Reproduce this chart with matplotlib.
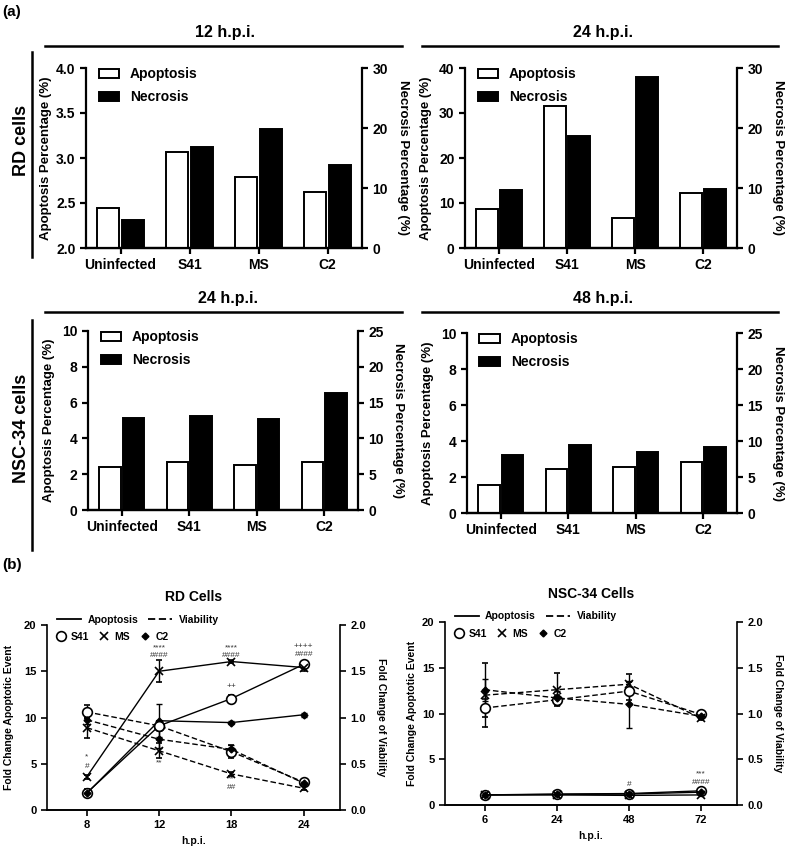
import numpy as np
import matplotlib
matplotlib.use('Agg')
import matplotlib.pyplot as plt
from matplotlib.patches import Patch
from matplotlib.lines import Line2D
from matplotlib.ticker import FormatStrFormatter

plt.rcParams['font.family'] = ['Liberation Sans', 'DejaVu Sans']
plt.rcParams['font.weight'] = 'bold'
plt.rcParams['axes.labelweight'] = 'bold'

# ---- (a) bar data ----
groups = ['Uninfected', 'S41', 'MS', 'C2']
rd12_apop = [2.44, 3.07, 2.79, 2.62]
rd12_necr = [4.7, 16.8, 19.8, 13.9]
rd24_apop = [8.7, 31.6, 6.6, 12.3]
rd24_necr = [9.6, 18.7, 28.5, 9.85]
nsc24_apop = [2.42, 2.68, 2.51, 2.68]
nsc24_necr = [12.9, 13.1, 12.7, 16.3]
nsc48_apop = [1.54, 2.47, 2.57, 2.84]
nsc48_necr = [8.0, 9.5, 8.5, 9.1]

# ---- (b) time course data ----
rd_hpi = ['8', '12', '18', '24']
rd_apop_s41 = [1.85, 9.1, 12.05, 15.75]
rd_apop_s41_err = [0.4, 0.5, 0.4, 0.4]
rd_apop_ms = [3.6, 15.0, 16.05, 15.4]
rd_apop_ms_err = [0.2, 1.2, 0.2, 0.4]
rd_apop_c2 = [1.8, 9.65, 9.45, 10.3]
rd_apop_c2_err = [0.2, 1.8, 0.2, 0.2]
rd_via_s41 = [1.06, 0.91, 0.63, 0.30]
rd_via_s41_err = [0.07, 0.05, 0.07, 0.03]
rd_via_ms = [0.89, 0.64, 0.39, 0.235]
rd_via_ms_err = [0.11, 0.08, 0.02, 0.02]
rd_via_c2 = [0.975, 0.765, 0.655, 0.29]
rd_via_c2_err = [0.05, 0.1, 0.05, 0.02]
rd_marks = [(0, 5.7, '*'), (0, 4.75, '#'), (1, 17.55, '****'), (1, 16.65, '####'),
            (1, 5.1, '**'), (2, 17.55, '****'), (2, 16.65, '####'), (2, 13.3, '++'),
            (2, 3.4, '**'), (2, 2.45, '##'), (3, 17.7, '++++'), (3, 16.8, '####')]

nsc_hpi = ['6', '24', '48', '72']
nsc_apop_s41 = [1.1, 1.2, 1.25, 1.55]
nsc_apop_s41_err = [0.05, 0.05, 0.05, 0.05]
nsc_apop_ms = [1.1, 1.1, 1.05, 1.1]
nsc_apop_ms_err = [0.05, 0.05, 0.05, 0.05]
nsc_apop_c2 = [1.1, 1.15, 1.2, 1.4]
nsc_apop_c2_err = [0.05, 0.05, 0.05, 0.05]
nsc_via_s41 = [1.06, 1.15, 1.245, 0.99]
nsc_via_s41_err = [0.1, 0.05, 0.1, 0.02]
nsc_via_ms = [1.2, 1.26, 1.32, 0.95]
nsc_via_ms_err = [0.35, 0.18, 0.11, 0.02]
nsc_via_c2 = [1.26, 1.17, 1.10, 0.97]
nsc_via_c2_err = [0.12, 0.08, 0.26, 0.02]
nsc_marks = [(2, 2.2, '#'), (3, 3.45, '***'), (3, 2.45, '####')]

W, H = 787, 846
fig = plt.figure(figsize=(W / 100, H / 100), dpi=100)


def box(l, t, r, b):
    return [l / W, 1 - b / H, (r - l) / W, (b - t) / H]


def ftext(x, y, s, **kw):
    fig.text(x / W, 1 - y / H, s, ha='center', va='center', fontweight='bold', **kw)


def fline(xs, ys, lw=1.8):
    fig.add_artist(Line2D([x / W for x in xs], [1 - y / H for y in ys],
                          transform=fig.transFigure, color='black', lw=lw))


def style(ax, ax2, lw, size):
    for a in (ax, ax2):
        a.spines['top'].set_visible(False)
        for s in a.spines.values():
            s.set_linewidth(lw)
        a.tick_params(width=lw, length=4, labelsize=size, direction='out')
    ax.spines['right'].set_visible(False)
    ax2.spines['left'].set_visible(False)
    for lab in ax.get_xticklabels() + ax.get_yticklabels() + ax2.get_yticklabels():
        lab.set_fontweight('bold')


def bar_panel(rect, apop, necr, ylim, yticks, rlim, rticks, fmt):
    ax = fig.add_axes(rect)
    ax2 = ax.twinx()
    x = np.arange(len(groups))
    ax.bar(x - 0.175, apop, 0.32, color='white', edgecolor='black', lw=1.4, zorder=3)
    ax2.bar(x + 0.175, necr, 0.32, color='black', edgecolor='black', lw=1.4)
    ax.set_xlim(-0.5, 3.5)
    ax.set_ylim(*ylim)
    ax.set_yticks(yticks)
    ax.yaxis.set_major_formatter(FormatStrFormatter(fmt))
    ax2.set_ylim(*rlim)
    ax2.set_yticks(rticks)
    ax.set_xticks(x)
    ax.set_xticklabels(groups)
    style(ax, ax2, 1.6, 10)
    ax.set_ylabel('Apoptosis Percentage (%)', fontsize=9.5, fontweight='bold')
    ax2.set_ylabel('Necrosis Percentage (%)', fontsize=9.5, fontweight='bold', rotation=270)
    ax.yaxis.set_label_coords(-0.123, 0.5)
    ax2.yaxis.set_label_coords(1.15, 0.5)
    ax2.yaxis.label.set_va('center')
    hs = [Patch(facecolor='white', edgecolor='black', lw=1.4),
          Patch(facecolor='black', edgecolor='black', lw=1.4)]
    ax2.legend(hs, ['Apoptosis', 'Necrosis'], loc='upper left', bbox_to_anchor=(0.0, 1.075),
               frameon=False, prop={'size': 10, 'weight': 'bold'},
               handlelength=1.45, handleheight=0.6, handletextpad=0.8, labelspacing=0.65)
    return ax, ax2


bar_panel(box(86, 68, 362, 248), rd12_apop, rd12_necr, (2, 4), [2, 2.5, 3, 3.5, 4],
          (0, 30), [0, 10, 20, 30], '%.1f')
bar_panel(box(465, 68, 737, 248), rd24_apop, rd24_necr, (0, 40), [0, 10, 20, 30, 40],
          (0, 30), [0, 10, 20, 30], '%d')
bar_panel(box(88, 331, 358, 510), nsc24_apop, nsc24_necr, (0, 10), [0, 2, 4, 6, 8, 10],
          (0, 25), [0, 5, 10, 15, 20, 25], '%d')
bar_panel(box(467, 333, 737, 513), nsc48_apop, nsc48_necr, (0, 10), [0, 2, 4, 6, 8, 10],
          (0, 25), [0, 5, 10, 15, 20, 25], '%d')

# panel headings and row labels
ftext(12, 12, '(a)', fontsize=11)
ftext(225, 33, '12 h.p.i.', fontsize=11.5)
ftext(603, 33, '24 h.p.i.', fontsize=11.5)
ftext(228, 298, '24 h.p.i.', fontsize=11.5)
ftext(603, 298, '48 h.p.i.', fontsize=11.5)
fline([45, 402], [46, 46])
fline([422, 778], [46, 46])
fline([45, 402], [312, 312])
fline([422, 778], [312, 312])
fline([32, 32], [52, 257])
fline([32, 32], [320, 550])
ftext(22, 140, 'RD cells', fontsize=13, rotation=90)
ftext(22, 428, 'NSC-34 cells', fontsize=13, rotation=90)
ftext(12, 565, '(b)', fontsize=11)


def line_panel(rect, title, hpi, apop, apop_err, via, via_err, marks, lab_x):
    ax = fig.add_axes(rect)
    ax2 = ax.twinx()
    x = np.arange(len(hpi))
    mk = [dict(marker='o', ms=7, mfc='white', mec='black', mew=1.2),
          dict(marker='x', ms=6, mec='black', mew=1.2),
          dict(marker='D', ms=3.5, mfc='black', mec='black')]
    for i in range(3):
        ax.errorbar(x, apop[i], yerr=apop_err[i], color='black', lw=1, capsize=2.5,
                    elinewidth=1, capthick=1, **mk[i])
        ax2.errorbar(x, via[i], yerr=via_err[i], color='black', lw=1, capsize=2.5,
                     elinewidth=1, capthick=1, dashes=(4, 2), **mk[i])
    for xi, yi, s in marks:
        ax.text(xi, yi, s, ha='center', va='center', fontsize=6, color='#333333',
                fontweight='normal')
    ax.set_xlim(-0.55, 3.5)
    ax.set_ylim(0, 20)
    ax.set_yticks([0, 5, 10, 15, 20])
    ax2.set_ylim(0, 2)
    ax2.set_yticks([0, 0.5, 1.0, 1.5, 2.0])
    ax2.yaxis.set_major_formatter(FormatStrFormatter('%.1f'))
    ax.set_xticks(x)
    ax.set_xticklabels(hpi)
    style(ax, ax2, 1.2, 8)
    ax.set_title(title, fontsize=10, fontweight='bold', pad=17)
    ax.set_xlabel('h.p.i.', fontsize=7.5, fontweight='bold', labelpad=4)
    ax.set_ylabel('Fold Change Apoptotic Event', fontsize=7.5, fontweight='bold')
    ax2.set_ylabel('Fold Change of Viability', fontsize=7.5, fontweight='bold', rotation=270)
    ax.yaxis.set_label_coords(lab_x, 0.5)
    ax2.yaxis.set_label_coords(1.14, 0.5)
    ax2.yaxis.label.set_va('center')
    h1 = [Line2D([], [], color='black', lw=1.3), Line2D([], [], color='black', lw=1.3, dashes=(4, 2))]
    leg = ax2.legend(h1, ['Apoptosis', 'Viability'], ncol=2, loc='lower left',
                     bbox_to_anchor=(0.02, 0.98), frameon=False, borderaxespad=0,
                     prop={'size': 7.5, 'weight': 'bold'}, handlelength=2.3,
                     handletextpad=0.6, columnspacing=1.0)
    ax2.add_artist(leg)
    h2 = [Line2D([], [], ls='none', **mk[0]), Line2D([], [], ls='none', **mk[1]),
          Line2D([], [], ls='none', **mk[2])]
    ax2.legend(h2, ['S41', 'MS', 'C2'], ncol=3, loc='upper left', bbox_to_anchor=(0.015, 0.985),
               frameon=False, borderaxespad=0, prop={'size': 7.5, 'weight': 'bold'},
               handlelength=1.0, handletextpad=0.5, columnspacing=0.9)


line_panel(box(47, 625, 340, 810), 'RD Cells', rd_hpi,
           [rd_apop_s41, rd_apop_ms, rd_apop_c2], [rd_apop_s41_err, rd_apop_ms_err, rd_apop_c2_err],
           [rd_via_s41, rd_via_ms, rd_via_c2], [rd_via_s41_err, rd_via_ms_err, rd_via_c2_err],
           rd_marks, -0.113)
line_panel(box(445, 622, 737, 805), 'NSC-34 Cells', nsc_hpi,
           [nsc_apop_s41, nsc_apop_ms, nsc_apop_c2],
           [nsc_apop_s41_err, nsc_apop_ms_err, nsc_apop_c2_err],
           [nsc_via_s41, nsc_via_ms, nsc_via_c2], [nsc_via_s41_err, nsc_via_ms_err, nsc_via_c2_err],
           nsc_marks, -0.096)

fig.savefig('out.png', dpi=100)
